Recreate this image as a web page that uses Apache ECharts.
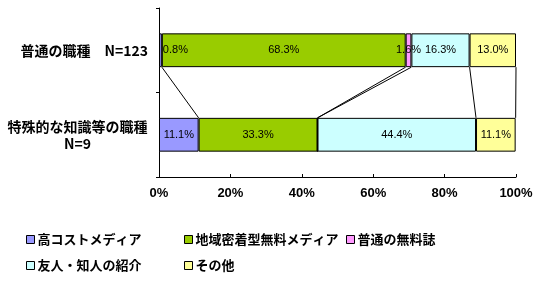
<!DOCTYPE html>
<html>
<head>
<meta charset="utf-8">
<script src="https://cdn.jsdelivr.net/npm/echarts@6/dist/echarts.min.js"></script>
<style>
html,body{margin:0;padding:0;background:#fff;}
#chart{width:553px;height:300px;}
</style>
</head>
<body>
<div id="chart"></div>
<script>
// ---- data ----
const categories = ['普通の職種　N=123', '特殊的な知識等の職種\nN=9'];
const seriesNames = ['高コストメディア', '地域密着型無料メディア', '普通の無料誌', '友人・知人の紹介', 'その他'];
const highCost   = [0.8, 11.1];
const localFree  = [68.3, 33.3];
const normalFree = [1.6, 0];
const friends    = [16.3, 44.4];
const other      = [13.0, 11.1];
const xTicks = [0, 20, 40, 60, 80, 100];

const seriesValues = [highCost, localFree, normalFree, friends, other];
const colors = ['#9999FF', '#99CC00', '#FF99FF', '#CCFFFF', '#FFFF99'];

const CJK = "'Noto Sans CJK JP', sans-serif";
const NUM = "'Liberation Sans Narrow', 'Liberation Sans', sans-serif";

// cumulative boundaries for the series lines
const topCum = [], botCum = [];
let t = 0, b = 0;
seriesValues.forEach(v => { t += v[0]; b += v[1]; topCum.push(+t.toFixed(1)); botCum.push(+b.toFixed(1)); });

const barSeries = seriesValues.map((vals, si) => ({
  name: seriesNames[si],
  type: 'bar',
  stack: 'total',
  barWidth: '40%',
  itemStyle: { color: colors[si], borderColor: '#000', borderWidth: 1 },
  label: {
    show: true,
    color: '#000',
    fontSize: 11,
    fontFamily: NUM,
    formatter: p => p.value === 0 ? '' : p.value.toFixed(1) + '%'
  },
  data: vals.map(v => v < 1 && v > 0 ? { value: v, label: { position: 'right', distance: 1 } } : v)
}));

const linkSeries = {
  type: 'custom',
  coordinateSystem: 'cartesian2d',
  silent: true,
  encode: { x: [0, 2], y: [1, 3] },
  data: topCum.map((tv, i) => [tv, 0, botCum[i], 1]),
  renderItem: (params, api) => {
    const p1 = api.coord([api.value(0), api.value(1)]);
    const p2 = api.coord([api.value(2), api.value(3)]);
    const half = api.size([0, 1])[1] * 0.2;
    return {
      type: 'line',
      shape: { x1: p1[0], y1: p1[1] + half, x2: p2[0], y2: p2[1] - half },
      style: { stroke: '#000', lineWidth: 1 }
    };
  }
};

const legendPos = [[26, 233], [184, 233], [346, 233], [26, 259], [184, 259]];
const legends = seriesNames.map((n, i) => ({
  data: [n],
  left: legendPos[i][0],
  top: legendPos[i][1],
  padding: 0,
  icon: 'rect',
  itemWidth: 8,
  itemHeight: 8,
  selectedMode: false,
  itemStyle: { borderColor: '#000', borderWidth: 1 },
  textStyle: { fontSize: 13, fontWeight: 'bold', fontFamily: CJK, color: '#000', padding: [0, 0, 0, -2] }
}));

const chart = echarts.init(document.getElementById('chart'), null, { renderer: 'canvas' });
chart.setOption({
  animation: false,
  backgroundColor: '#fff',
  legend: legends,
  grid: { left: 159, right: 37, top: 8, bottom: 123, containLabel: false },
  xAxis: {
    type: 'value',
    min: xTicks[0],
    max: xTicks[xTicks.length - 1],
    interval: xTicks[1] - xTicks[0],
    axisLine: { show: true, lineStyle: { color: '#000', width: 1 } },
    axisTick: { show: true, inside: true, length: 3, lineStyle: { color: '#000' } },
    splitLine: { show: false },
    axisLabel: { formatter: '{value}%', color: '#000', fontSize: 13, fontWeight: 'bold', fontFamily: NUM, margin: 10 }
  },
  yAxis: {
    type: 'category',
    inverse: true,
    data: categories,
    axisLine: { show: true, lineStyle: { color: '#000', width: 1 } },
    axisTick: { show: true, inside: false, length: 3, lineStyle: { color: '#000' } },
    axisLabel: {
      color: '#000',
      margin: 11,
      formatter: (v, i) => i === 1
        ? v.split('\n').map(s => '{c|' + s + '}').join('\n')
        : '{r|' + v + '}',
      rich: {
        c: { width: 141, align: 'center', fontSize: 14, fontWeight: 'bold', fontFamily: CJK, lineHeight: 17, color: '#000' },
        r: { fontSize: 14, fontWeight: 'bold', fontFamily: CJK, lineHeight: 17, color: '#000' }
      }
    }
  },
  series: [...barSeries, linkSeries]
});
</script>
</body>
</html>
